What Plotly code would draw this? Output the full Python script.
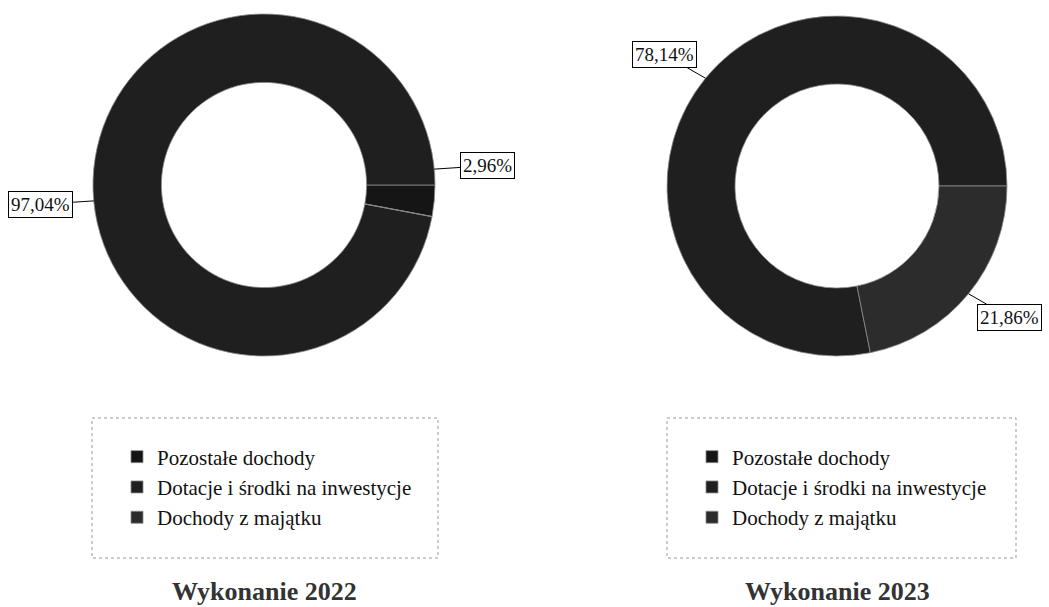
import math
import plotly.graph_objects as go

# dane
categories = ["Pozostałe dochody", "Dotacje i środki na inwestycje", "Dochody z majątku"]
values_2022 = [2.96, 97.04, 0]
values_2023 = [0, 78.14, 21.86]
titles = ["Wykonanie 2022", "Wykonanie 2023"]
colors = ["#151515", "#1f1f1f", "#2c2c2c"]

W, H = 1049, 607
FONT = "Liberation Serif, Times New Roman, serif"

# geometria (piksele): środek i promień każdego pierścienia
pies = [
    dict(values=values_2022, cx=264, cy=185, r=171, legend="legend", box=(92, 418, 438, 558), suffix=""),
    dict(values=values_2023, cx=837, cy=186, r=170, legend="legend2", box=(667, 418, 1016, 558), suffix="\u200b"),
]

fig = go.Figure()
annotations = []
shapes = []

for p, title in zip(pies, titles):
    cx, cy, r = p["cx"], p["cy"], p["r"]
    # osobne etykiety dla drugiej legendy (plotly łączy etykiety pie między śladami)
    labels = [c + p["suffix"] for c in categories]
    fig.add_trace(go.Pie(
        labels=labels, values=p["values"],
        hole=0.6, sort=False, direction="counterclockwise", rotation=90,
        marker=dict(colors=colors, line=dict(color="#8a8a8a", width=0.8)),
        textinfo="none", hoverinfo="label+percent",
        domain=dict(x=[(cx - r) / W, (cx + r) / W], y=[1 - (cy + r) / H, 1 - (cy - r) / H]),
        legend=p["legend"],
    ))

    # etykiety procentowe z linią odniesienia
    total = sum(p["values"])
    cum = 0
    for v in p["values"]:
        if v > 0:
            th = math.radians((cum + v / 2) / total * 360)
            px = cx + r * math.cos(th)
            py = cy - r * math.sin(th)
            annotations.append(dict(
                x=px / W, y=1 - py / H, xref="paper", yref="paper",
                text=f"{v:.2f}%".replace(".", ","),
                showarrow=True, arrowhead=0, arrowwidth=1, arrowcolor="black",
                ax=53 * math.cos(th), ay=-37 * math.sin(th), standoff=0,
                bordercolor="black", borderwidth=1, borderpad=2, bgcolor="white",
                font=dict(family=FONT, size=19, color="#111"),
            ))
        cum += v

    # tytuł pod wykresem
    annotations.append(dict(
        x=cx / W, y=1 - 591 / H, xref="paper", yref="paper", showarrow=False,
        xanchor="center", yanchor="middle",
        text=f"<b>{title}</b>", font=dict(family=FONT, size=26, color="#333"),
    ))

    x0, y0, x1, y1 = p["box"]
    shapes.append(dict(
        type="rect", xref="paper", yref="paper",
        x0=x0 / W, x1=x1 / W, y0=1 - y0 / H, y1=1 - y1 / H,
        line=dict(color="#9a9a9a", width=1, dash="dot"), fillcolor="rgba(0,0,0,0)",
    ))

legend_style = dict(
    font=dict(family=FONT, size=21, color="#111"),
    bgcolor="rgba(0,0,0,0)", borderwidth=0,
    xanchor="left", yanchor="middle", y=1 - 487 / H,
)

fig.update_layout(
    width=W, height=H,
    margin=dict(l=0, r=0, t=0, b=0),
    paper_bgcolor="white", plot_bgcolor="white",
    showlegend=True,
    legend=dict(x=117 / W, **legend_style),
    legend2=dict(x=692 / W, **legend_style),
    annotations=annotations,
    shapes=shapes,
)

fig.write_html("out.html", config={"displayModeBar": False},
               post_script="document.body.style.margin='0';")
